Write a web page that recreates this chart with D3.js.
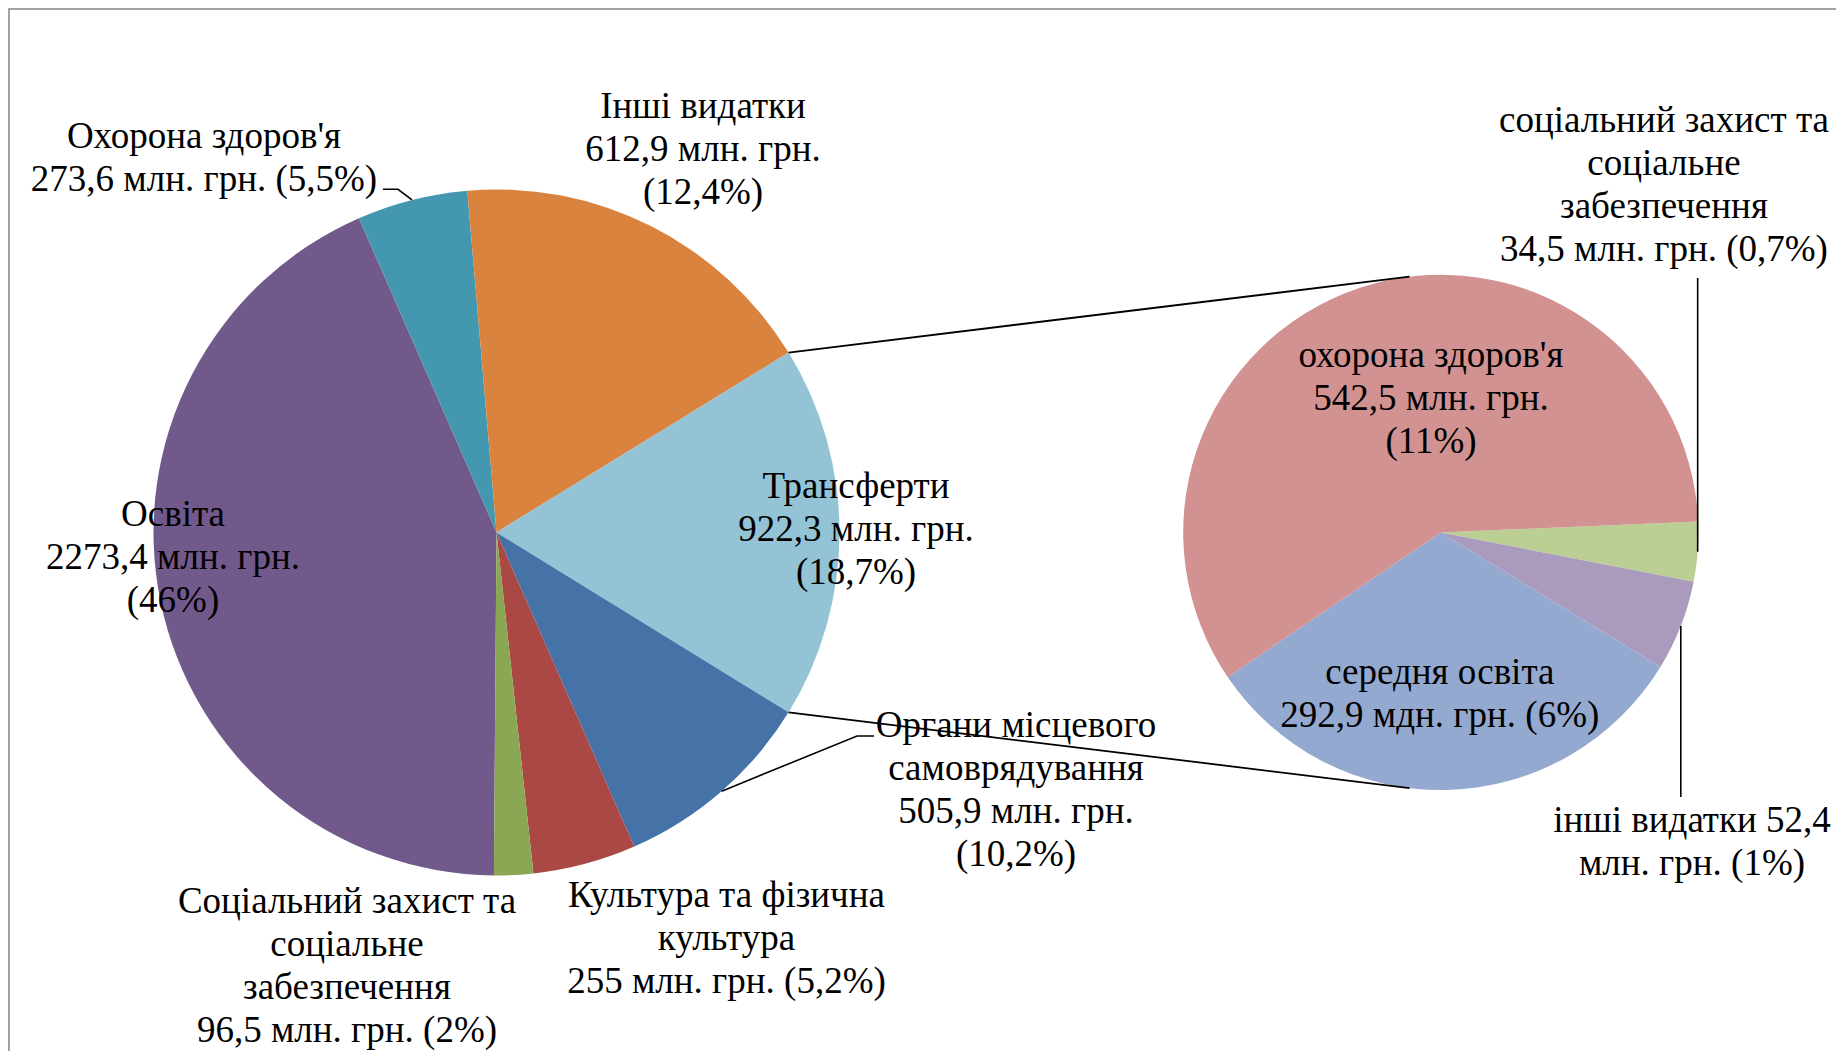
<!DOCTYPE html>
<html><head><meta charset="utf-8">
<script src="https://cdn.jsdelivr.net/npm/d3@7"></script>
<style>
body{margin:0;background:#fff;overflow:hidden}
svg{display:block}
text{font-family:"Liberation Serif","Times New Roman",serif;fill:#000}
</style>
</head><body>
<svg id="chart" width="1836" height="1051"></svg>
<script>
// ---------- DATA ----------
// main pie (млн. грн.). The slice sizes are as drawn in the picture:
// the "Інші видатки" slice is drawn as large as "Трансферти" (922,3), although its label reads 612,9.
const mainCategories = ["Освіта", "Охорона здоров'я", "Інші видатки", "Трансферти",
  "Органи місцевого самоврядування", "Культура та фізична культура", "Соціальний захист та соціальне забезпечення"];
const mainValues = [2273.4, 273.6, 922.3, 922.3, 505.9, 255, 96.5];
const mainLabels = [
  ["Освіта", "2273,4 млн. грн.", "(46%)"],
  ["Охорона здоров'я", "273,6 млн. грн. (5,5%)"],
  ["Інші видатки", "612,9 млн. грн.", "(12,4%)"],
  ["Трансферти", "922,3 млн. грн.", "(18,7%)"],
  ["Органи місцевого", "самоврядування", "505,9 млн. грн.", "(10,2%)"],
  ["Культура та фізична", "культура", "255 млн. грн. (5,2%)"],
  ["Соціальний захист та", "соціальне", "забезпечення", "96,5 млн. грн. (2%)"]
];
const otherIndex = 3; // "Трансферти" is split in the second pie

// second pie (breakdown of "Трансферти")
const secCategories = ["соціальний захист та соціальне забезпечення", "інші видатки", "середня освіта", "охорона здоров'я"];
const secValues = [34.5, 52.4, 292.9, 542.5];
const secLabels = [
  ["соціальний захист та", "соціальне", "забезпечення", "34,5 млн. грн. (0,7%)"],
  ["інші видатки 52,4", "млн. грн. (1%)"],
  ["середня освіта", "292,9 мдн. грн. (6%)"],
  ["охорона здоров'я", "542,5 млн. грн.", "(11%)"]
];

// ---------- STYLE / LAYOUT ----------
const mainColors = ["#72598C", "#4398AF", "#DA833F", "#93C3D4", "#4673A7", "#AA4846", "#8AA753"];
const secColors  = ["#BBCF94", "#A99ABE", "#94A9CF", "#D19291"];
const mainC = {x: 496.5, y: 532.4}, mainR = 343;
const secC  = {x: 1440.8, y: 532.4}, secR = 257.6;
const secStartDeg = 87.6;
const fontSize = 37, lineH = 43;
// label anchors (centre x, first baseline) relative to pie centre
const mainLabelPos = [[-323.5, -6], [-292.5, -384.4], [206.5, -414.4], [359.5, -34.4], [519.5, 205], [230, 375], [-149.5, 381]];
const secLabelPos  = [[223.2, -400.4], [251.2, 299.6], [-1, 151.6], [-9.8, -165.4]];

const svg = d3.select("#chart");

// frame
svg.append("rect").attr("x", 9).attr("y", 9).attr("width", 3000).attr("height", 3000)
  .attr("fill", "none").attr("stroke", "#8c8c8c").attr("stroke-width", 1.6);

// main pie
const total = d3.sum(mainValues);
const before = d3.sum(mainValues.slice(0, otherIndex));
const startMain = Math.PI / 2 - (before + mainValues[otherIndex] / 2) / total * 2 * Math.PI;
const pieMain = d3.pie().sort(null).startAngle(startMain).endAngle(startMain + 2 * Math.PI);
const arcsMain = pieMain(mainValues);
const arcMain = d3.arc().innerRadius(0).outerRadius(mainR);
const gMain = svg.append("g").attr("transform", `translate(${mainC.x},${mainC.y})`);
gMain.selectAll("path").data(arcsMain).join("path")
  .attr("d", arcMain).attr("fill", (d, i) => mainColors[i]);

// second pie
const secStart = secStartDeg * Math.PI / 180;
const pieSec = d3.pie().sort(null).startAngle(secStart).endAngle(secStart + 2 * Math.PI);
const arcsSec = pieSec(secValues);
const arcSec = d3.arc().innerRadius(0).outerRadius(secR);
const gSec = svg.append("g").attr("transform", `translate(${secC.x},${secC.y})`);
gSec.selectAll("path").data(arcsSec).join("path")
  .attr("d", arcSec).attr("fill", (d, i) => secColors[i]);

function polar(c, r, a) { return [c.x + r * Math.sin(a), c.y - r * Math.cos(a)]; }

// connector lines (tangent to second pie)
const o = arcsMain[otherIndex];
function tangent(P, upper) {
  const vx = P[0] - secC.x, vy = P[1] - secC.y;
  const d = Math.hypot(vx, vy);
  const th = Math.atan2(vy, vx), al = Math.acos(secR / d);
  const t = upper ? th + al : th - al;
  return [secC.x + secR * Math.cos(t), secC.y + secR * Math.sin(t)];
}
const P0 = polar(mainC, mainR, o.startAngle), P1 = polar(mainC, mainR, o.endAngle);
const line = d3.line();
svg.append("path").attr("d", line([P0, tangent(P0, true)])).attr("stroke", "#000").attr("stroke-width", 1.8).attr("fill", "none");
svg.append("path").attr("d", line([P1, tangent(P1, false)])).attr("stroke", "#000").attr("stroke-width", 1.8).attr("fill", "none");

// leader lines
const mid = d => (d.startAngle + d.endAngle) / 2;
const leaders = [
  [polar(mainC, mainR, mid(arcsMain[1])), [398, 189.3], [383, 189.3]],
  [polar(mainC, mainR, mid(arcsMain[4])), [857, 736], [874, 736]],
];
const ps = polar(secC, secR, mid(arcsSec[0]));
leaders.push([ps, [ps[0], 278]]);
const pi = polar(secC, secR, mid(arcsSec[1]));
leaders.push([pi, [pi[0], 797]]);
leaders.forEach(pts => svg.append("path").attr("d", line(pts)).attr("stroke", "#000")
  .attr("stroke-width", 1.6).attr("fill", "none"));

// labels
function addLabel(c, pos, lines) {
  const t = svg.append("text").attr("text-anchor", "middle").attr("font-size", fontSize)
    .attr("x", c.x + pos[0]).attr("y", c.y + pos[1]);
  lines.forEach((s, k) => t.append("tspan").attr("x", c.x + pos[0]).attr("y", c.y + pos[1] + k * lineH).text(s));
}
mainLabels.forEach((l, i) => addLabel(mainC, mainLabelPos[i], l));
secLabels.forEach((l, i) => addLabel(secC, secLabelPos[i], l));
</script>
</body></html>
